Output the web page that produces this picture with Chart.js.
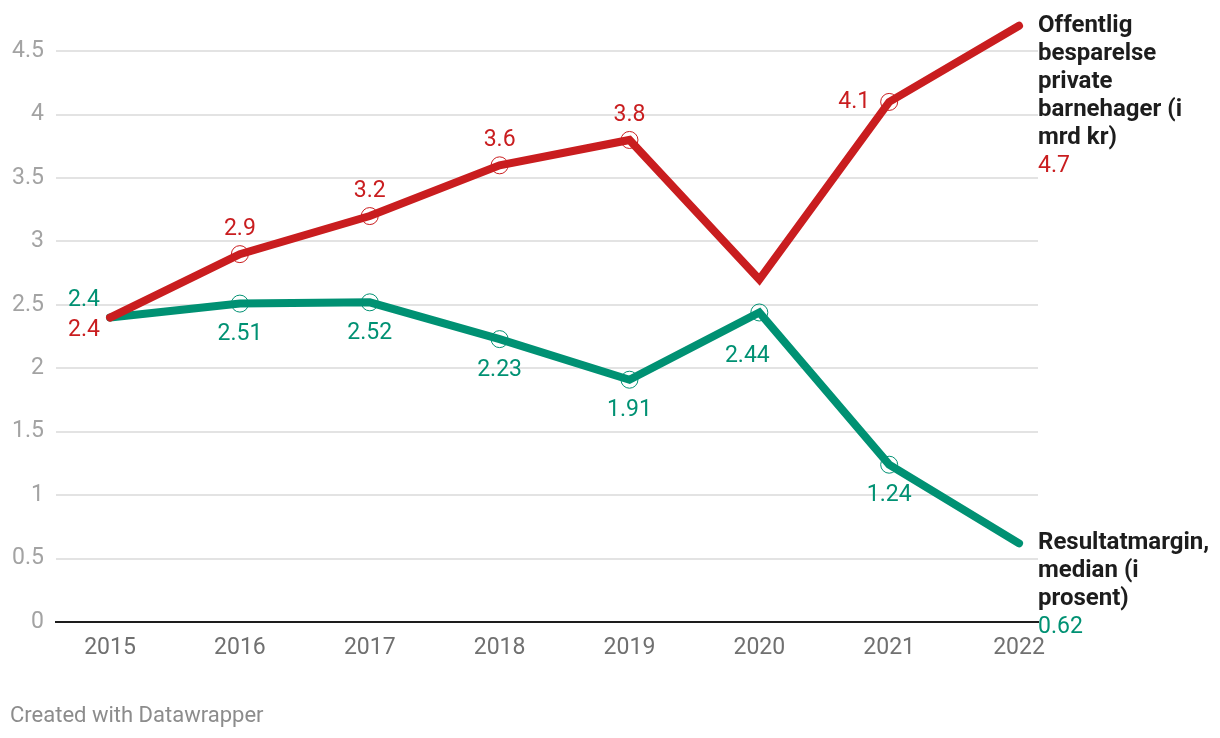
<!DOCTYPE html>
<html>
<head>
<meta charset="utf-8">
<script src="https://cdn.jsdelivr.net/npm/chart.js@4"></script>
<style>
  html, body { margin: 0; padding: 0; background: #fff; }
  #wrap { position: relative; width: 1220px; height: 738px; }
  #footer { position: absolute; left: 10px; top: 702px; font: 22px Roboto, sans-serif; color: #8c8c8c; }
</style>
</head>
<body>
<div id="wrap">
  <canvas id="lineChart" width="1220" height="738"></canvas>
  <div id="footer">Created with Datawrapper</div>
</div>
<script>
// data
var years = [2015, 2016, 2017, 2018, 2019, 2020, 2021, 2022]
var yTicks = [0, 0.5, 1, 1.5, 2, 2.5, 3, 3.5, 4, 4.5]
var besparelse = [2.4, 2.9, 3.2, 3.6, 3.8, 2.7, 4.1, 4.7]
var resultatmargin = [2.4, 2.51, 2.52, 2.23, 1.91, 2.44, 1.24, 0.62]
var besparelseName = ['Offentlig', 'besparelse', 'private', 'barnehager (i', 'mrd kr)']
var resultatName = ['Resultatmargin,', 'median (i', 'prosent)']

// where each value label goes (null = no label)
var redLabelPos = ['leftBelow', 'above', 'above', 'above', 'above', null, 'left', 'end']
var greenLabelPos = ['leftAbove', 'below', 'below', 'below', 'below', 'belowLeft', 'below', 'end']

var RED = '#c91d1f'
var GREEN = '#009173'
var FONT = 23

function toPoints(vals) {
    return years.map(function (y, i) { return { x: y, y: vals[i] } })
}

function circleRadius(pos) {
    return pos.map(function (p) {
        return (p === 'above' || p === 'below' || p === 'left' || p === 'belowLeft') ? 8.5 : 0
    })
}

function fmt(v) {
    return String(v)
}

// 数据标签和结尾的系列名
var labelPlugin = {
    id: 'labels',
    afterDatasetsDraw: function (chart) {
        var ctx = chart.ctx
        var xs = chart.scales.x
        var ys = chart.scales.y
        var sets = [
            { vals: besparelse, pos: redLabelPos, color: RED, name: besparelseName },
            { vals: resultatmargin, pos: greenLabelPos, color: GREEN, name: resultatName }
        ]
        ctx.save()
        ctx.textBaseline = 'middle'
        for (var s of sets) {
            for (var i = 0; i < s.vals.length; i++) {
                var p = s.pos[i]
                if (!p) continue
                var px = xs.getPixelForValue(years[i])
                var py = ys.getPixelForValue(s.vals[i])
                ctx.font = FONT + 'px Roboto'
                ctx.fillStyle = s.color
                if (p === 'above') {
                    ctx.textAlign = 'center'
                    ctx.fillText(fmt(s.vals[i]), px, py - 25)
                } else if (p === 'below') {
                    ctx.textAlign = 'center'
                    ctx.fillText(fmt(s.vals[i]), px, py + 31)
                } else if (p === 'belowLeft') {
                    ctx.textAlign = 'center'
                    ctx.fillText(fmt(s.vals[i]), px - 12, py + 44)
                } else if (p === 'left') {
                    ctx.textAlign = 'right'
                    ctx.fillText(fmt(s.vals[i]), px - 19, py)
                } else if (p === 'leftBelow') {
                    ctx.textAlign = 'right'
                    ctx.fillText(fmt(s.vals[i]), px - 10, py + 13)
                } else if (p === 'leftAbove') {
                    ctx.textAlign = 'right'
                    ctx.fillText(fmt(s.vals[i]), px - 10, py - 17)
                } else if (p === 'end') {
                    var lx = chart.chartArea.right
                    ctx.textAlign = 'left'
                    ctx.font = 'bold 24px Roboto'
                    ctx.fillStyle = '#1d1d1d'
                    for (var k = 0; k < s.name.length; k++) {
                        ctx.fillText(s.name[k], lx, py + k * 28)
                    }
                    ctx.font = FONT + 'px Roboto'
                    ctx.fillStyle = s.color
                    ctx.fillText(fmt(s.vals[i]), lx, py + s.name.length * 28)
                }
            }
        }
        ctx.restore()
    }
}

function LineChart() {
    var ctx = document.getElementById('lineChart').getContext('2d')
    new Chart(ctx, {
        type: 'line',
        data: {
            datasets: [{
                label: besparelseName.join(' '),
                data: toPoints(besparelse),
                borderColor: RED,
                borderWidth: 8,
                borderCapStyle: 'round',
                borderJoinStyle: 'miter',
                pointRadius: circleRadius(redLabelPos),
                pointBorderColor: RED,
                pointBorderWidth: 1,
                pointBackgroundColor: 'rgba(0,0,0,0)',
                tension: 0,
                clip: false
            }, {
                label: resultatName.join(' '),
                data: toPoints(resultatmargin),
                borderColor: GREEN,
                borderWidth: 8,
                borderCapStyle: 'round',
                borderJoinStyle: 'miter',
                pointRadius: circleRadius(greenLabelPos),
                pointBorderColor: GREEN,
                pointBorderWidth: 1,
                pointBackgroundColor: 'rgba(0,0,0,0)',
                tension: 0,
                clip: false
            }]
        },
        options: {
            responsive: false,
            animation: false,
            layout: { padding: { top: 22, right: 182, left: 0, bottom: 0 } },
            plugins: { legend: { display: false }, tooltip: { enabled: false } },
            scales: {
                x: {
                    type: 'linear',
                    min: 2014.584,
                    max: 2022.146,
                    afterBuildTicks: function (scale) {
                        scale.ticks = years.map(function (v) { return { value: v } })
                    },
                    afterFit: function (scale) { scale.height = 116 },
                    grid: { display: false, drawTicks: false },
                    border: { display: true, color: '#1d1d1d', width: 2 },
                    ticks: {
                        padding: 12,
                        color: '#707070',
                        font: { family: 'Roboto', size: FONT },
                        maxRotation: 0,
                        callback: function (v) { return String(v) }
                    }
                },
                y: {
                    min: 0,
                    max: 4.7,
                    afterBuildTicks: function (scale) {
                        scale.ticks = yTicks.map(function (v) { return { value: v } })
                    },
                    afterFit: function (scale) { scale.width = 56 },
                    grid: { color: '#e3e3e3', lineWidth: 2, drawTicks: false },
                    border: { display: false },
                    ticks: {
                        padding: 12,
                        color: '#a3a3a3',
                        font: { family: 'Roboto', size: FONT },
                        callback: function (v) { return String(v) }
                    }
                }
            }
        },
        plugins: [labelPlugin]
    })
}

document.addEventListener('DOMContentLoaded', LineChart)
</script>
</body>
</html>
